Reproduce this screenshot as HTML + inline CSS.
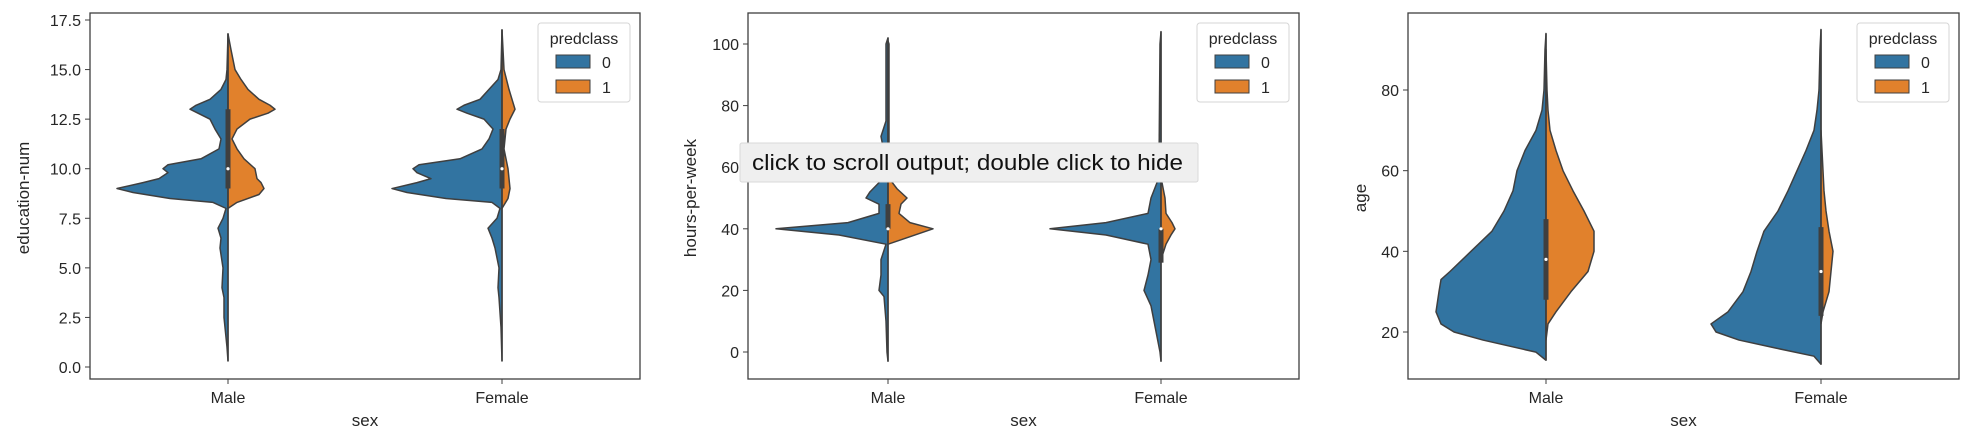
<!DOCTYPE html>
<html><head><meta charset="utf-8"><style>
html,body{margin:0;padding:0;background:#fff;}
svg{display:block;font-family:"Liberation Sans",sans-serif;}
</style></head><body>
<svg id="chart" width="1976" height="438" viewBox="0 0 1976 438"></svg>
<script>
// ---- data (half-widths are relative densities in px-scale units) ----
const categories = ["Male", "Female"];
// Panel 1: education-num
const eduTicks = [0, 2.5, 5, 7.5, 10, 12.5, 15, 17.5];
const eduMale0 = [[0.3,0],[1,1],[2.5,4],[3.5,4],[4,6],[5,5],[6,8],[6.5,7],[7,10],[7.5,5],[8,2],[8.3,15],[8.5,58],[8.8,95],[9,111],[9.3,85],[9.5,69],[9.8,60],[10,65],[10.2,60],[10.5,27],[11,9],[11.5,7],[12,13],[12.5,18],[12.8,30],[13,38],[13.2,32],[13.5,18],[14,7],[14.5,2],[15,1],[16.8,0]];
const eduMale1 = [[8,0],[8.3,9],[8.7,31],[9,36],[9.3,33],[9.5,29],[10,27],[10.5,16],[11,9],[11.5,4],[12,9],[12.5,22],[12.8,40],[13,47],[13.2,42],[13.5,31],[14,20],[14.5,13],[15,7],[16,3],[16.8,0]];
const eduFemale0 = [[0.3,0],[2,1],[3.5,3],[4,4],[5,3],[6,7],[6.5,10],[7,14],[7.5,5],[8,2],[8.3,10],[8.5,56],[8.8,95],[9,110],[9.3,85],[9.5,71],[9.8,85],[10,89],[10.2,83],[10.5,42],[11,20],[11.5,13],[12,9],[12.5,18],[12.8,35],[13,45],[13.2,38],[13.5,22],[14,13],[14.5,4],[15,1],[17,0]];
const eduFemale1 = [[8,0],[8.5,6],[9,8],[10,6],[11,2],[12,4],[12.5,8],[13,13],[13.5,10],[14,7],[15,2],[16,1],[17,0]];
const eduBox = [[0.3,9,10,13,16.8],[0.3,9,10,12,17]];
// Panel 2: hours-per-week
const hrsTicks = [0, 20, 40, 60, 80, 100];
const hrsMale0 = [[-3,0],[0,1],[10,2],[18,4],[20,9],[25,7],[30,7],[35,2],[38,49],[40,112],[42,40],[45,9],[48,9],[50,22],[52,18],[55,9],[60,4],[65,4],[70,7],[75,2],[80,2],[100,2],[102,0]];
const hrsMale1 = [[35,0],[37,18],[40,45],[42,22],[45,11],[48,13],[50,19],[53,9],[56,2],[60,1],[100,1],[101,0]];
const hrsFemale0 = [[-3,0],[0,1],[10,7],[15,10],[20,17],[25,13],[30,10],[35,13],[38,55],[40,111],[42,55],[45,13],[50,10],[55,4],[60,2],[100,1],[104,0]];
const hrsFemale1 = [[30,0],[35,5],[38,10],[40,14],[42,11],[45,5],[50,4],[55,1],[60,0]];
const hrsBox = [[-3,40,40,48,102],[-3,29,40,40,104]];
// Panel 3: age
const ageTicks = [20, 40, 60, 80];
const ageMale0 = [[13,0],[15,10],[18,63],[20,92],[22,105],[25,110],[30,107],[33,105],[35,96],[40,75],[45,54],[50,42],[55,33],[60,29],[65,21],[70,10],[75,4],[80,2],[90,1],[94,0]];
const ageMale1 = [[18,0],[22,2],[25,10],[30,25],[35,42],[40,48],[45,48],[50,38],[55,27],[60,17],[65,10],[70,4],[75,2],[80,1],[90,0]];
const ageFemale0 = [[12,0],[14,7],[16,45],[18,82],[20,105],[22,110],[25,93],[30,78],[35,70],[40,64],[45,57],[50,43],[55,33],[60,24],[65,15],[70,7],[75,4],[80,2],[90,1],[95,0]];
const ageFemale1 = [[22,0],[25,2],[30,8],[35,10],[40,12],[45,8],[50,5],[55,3],[60,2],[65,1],[70,0]];
const ageBox = [[13,28,38,48,94],[12,24,35,46,95]];

const NS = "http://www.w3.org/2000/svg";
const svg = document.getElementById("chart");
function mk(tag, attrs, parent){ const e=document.createElementNS(NS,tag); for(const k in attrs) e.setAttribute(k,attrs[k]); (parent||svg).appendChild(e); return e; }

const BLUE="#3274a1", ORANGE="#e1812c", EDGE="#3f3f3f", TXT="#262626";

const panels = [
  {name:"education", left:90, right:640, top:13, bottom:379, xs:[228,502], v0:0, y0:367, v1:17.5, y1:20, ticks:eduTicks, fmt:v=>v.toFixed(1), label:"education-num", lx:23,
   halves:[[eduMale0,eduMale1],[eduFemale0,eduFemale1]], box:eduBox},
  {name:"hours", left:748, right:1299, top:13, bottom:379, xs:[888,1161], v0:0, y0:352, v1:100, y1:44, ticks:hrsTicks, fmt:v=>String(v), label:"hours-per-week", lx:690,
   halves:[[hrsMale0,hrsMale1],[hrsFemale0,hrsFemale1]], box:hrsBox},
  {name:"age", left:1408, right:1959, top:13, bottom:379, xs:[1546,1821], v0:20, y0:332, v1:80, y1:90, ticks:ageTicks, fmt:v=>String(v), label:"age", lx:1360,
   halves:[[ageMale0,ageMale1],[ageFemale0,ageFemale1]], box:ageBox}
];

panels.forEach((p,pi)=>{
  const g = mk("g",{});
  
  
  const yScale = v => p.y0 + (v-p.v0)*(p.y1-p.y0)/(p.v1-p.v0);
  categories.forEach((cat,ci)=>{
    const cx = p.xs[ci];
    const [d0,d1] = p.halves[ci];
    let s0 = `M${cx},${yScale(d0[0][0])}`;
    d0.forEach(([v,w])=>{ s0 += ` L${cx-w},${yScale(v)}`; });
    s0 += ` L${cx},${yScale(d0[d0.length-1][0])} Z`;
    const a = mk("path",{d:s0,fill:BLUE,stroke:EDGE,"stroke-width":1.5,"stroke-linejoin":"round"},g);
    
    
    let s1 = `M${cx},${yScale(d1[0][0])}`;
    d1.forEach(([v,w])=>{ s1 += ` L${cx+w},${yScale(v)}`; });
    s1 += ` L${cx},${yScale(d1[d1.length-1][0])} Z`;
    const b = mk("path",{d:s1,fill:ORANGE,stroke:EDGE,"stroke-width":1.5,"stroke-linejoin":"round"},g);
    
    
    const [lo,q1,med,q3,hi] = p.box[ci];
    const wl = mk("line",{x1:cx,x2:cx,y1:yScale(lo),y2:yScale(hi),stroke:EDGE,"stroke-width":1.5},g);
    
    
    const bx = mk("line",{x1:cx,x2:cx,y1:yScale(q1),y2:yScale(q3),stroke:EDGE,"stroke-width":5},g);
    
    
    const md = mk("circle",{cx:cx,cy:yScale(med),r:1.6,fill:"#fff"},g);
    
    
    mk("line",{x1:cx,x2:cx,y1:p.bottom,y2:p.bottom+5,stroke:EDGE,"stroke-width":1},g);
    const xt = mk("text",{x:cx,y:403,"text-anchor":"middle","font-size":16,fill:TXT},g);
    xt.textContent = cat;
    
    
  });
  const fr = mk("rect",{x:p.left,y:p.top,width:p.right-p.left,height:p.bottom-p.top,fill:"none",stroke:EDGE,"stroke-width":1.3},g);
  
  
  p.ticks.forEach(t=>{
    const y = yScale(t);
    mk("line",{x1:p.left-5,x2:p.left,y1:y,y2:y,stroke:EDGE,"stroke-width":1},g);
    const tx = mk("text",{x:p.left-9,y:y+6,"text-anchor":"end","font-size":16,fill:TXT},g);
    tx.textContent = p.fmt(t);
    
    
  });
  const yl = mk("text",{x:p.lx,y:198,"text-anchor":"middle","font-size":17,fill:TXT,transform:`rotate(-90 ${p.lx} 198)`,dy:6},g);
  yl.textContent = p.label;
  
  
  const xl = mk("text",{x:(p.left+p.right)/2,y:426,"text-anchor":"middle","font-size":17,fill:TXT},g);
  xl.textContent = "sex";
  
  
  const lg = mk("g",{},g);
  
  
  const lx = p.right-102;
  mk("rect",{x:lx,y:23,width:92,height:79,rx:3,fill:"#fff",stroke:"#d5d5d5","stroke-width":1},lg);
  const lt = mk("text",{x:lx+46,y:44,"text-anchor":"middle","font-size":16,fill:TXT},lg);
  lt.textContent = "predclass";
  [[BLUE,"0",55],[ORANGE,"1",80]].forEach(([c,l,y])=>{
    const e = mk("g",{},lg);
    
    
    mk("rect",{x:lx+18,y:y,width:34,height:13,fill:c,stroke:EDGE,"stroke-width":1},e);
    const t = mk("text",{x:lx+64,y:y+13,"font-size":16,fill:TXT},e);
    t.textContent = l;
  });
});

const tip = mk("g",{});


mk("rect",{x:740,y:143,width:458,height:39,rx:2,fill:"#efefef",stroke:"#d8d8d8","stroke-width":1},tip);
const tt = mk("text",{x:752,y:170,"font-size":22,fill:"#111",textLength:431,lengthAdjust:"spacingAndGlyphs"},tip);
tt.textContent = "click to scroll output; double click to hide";
</script>
</body></html>
